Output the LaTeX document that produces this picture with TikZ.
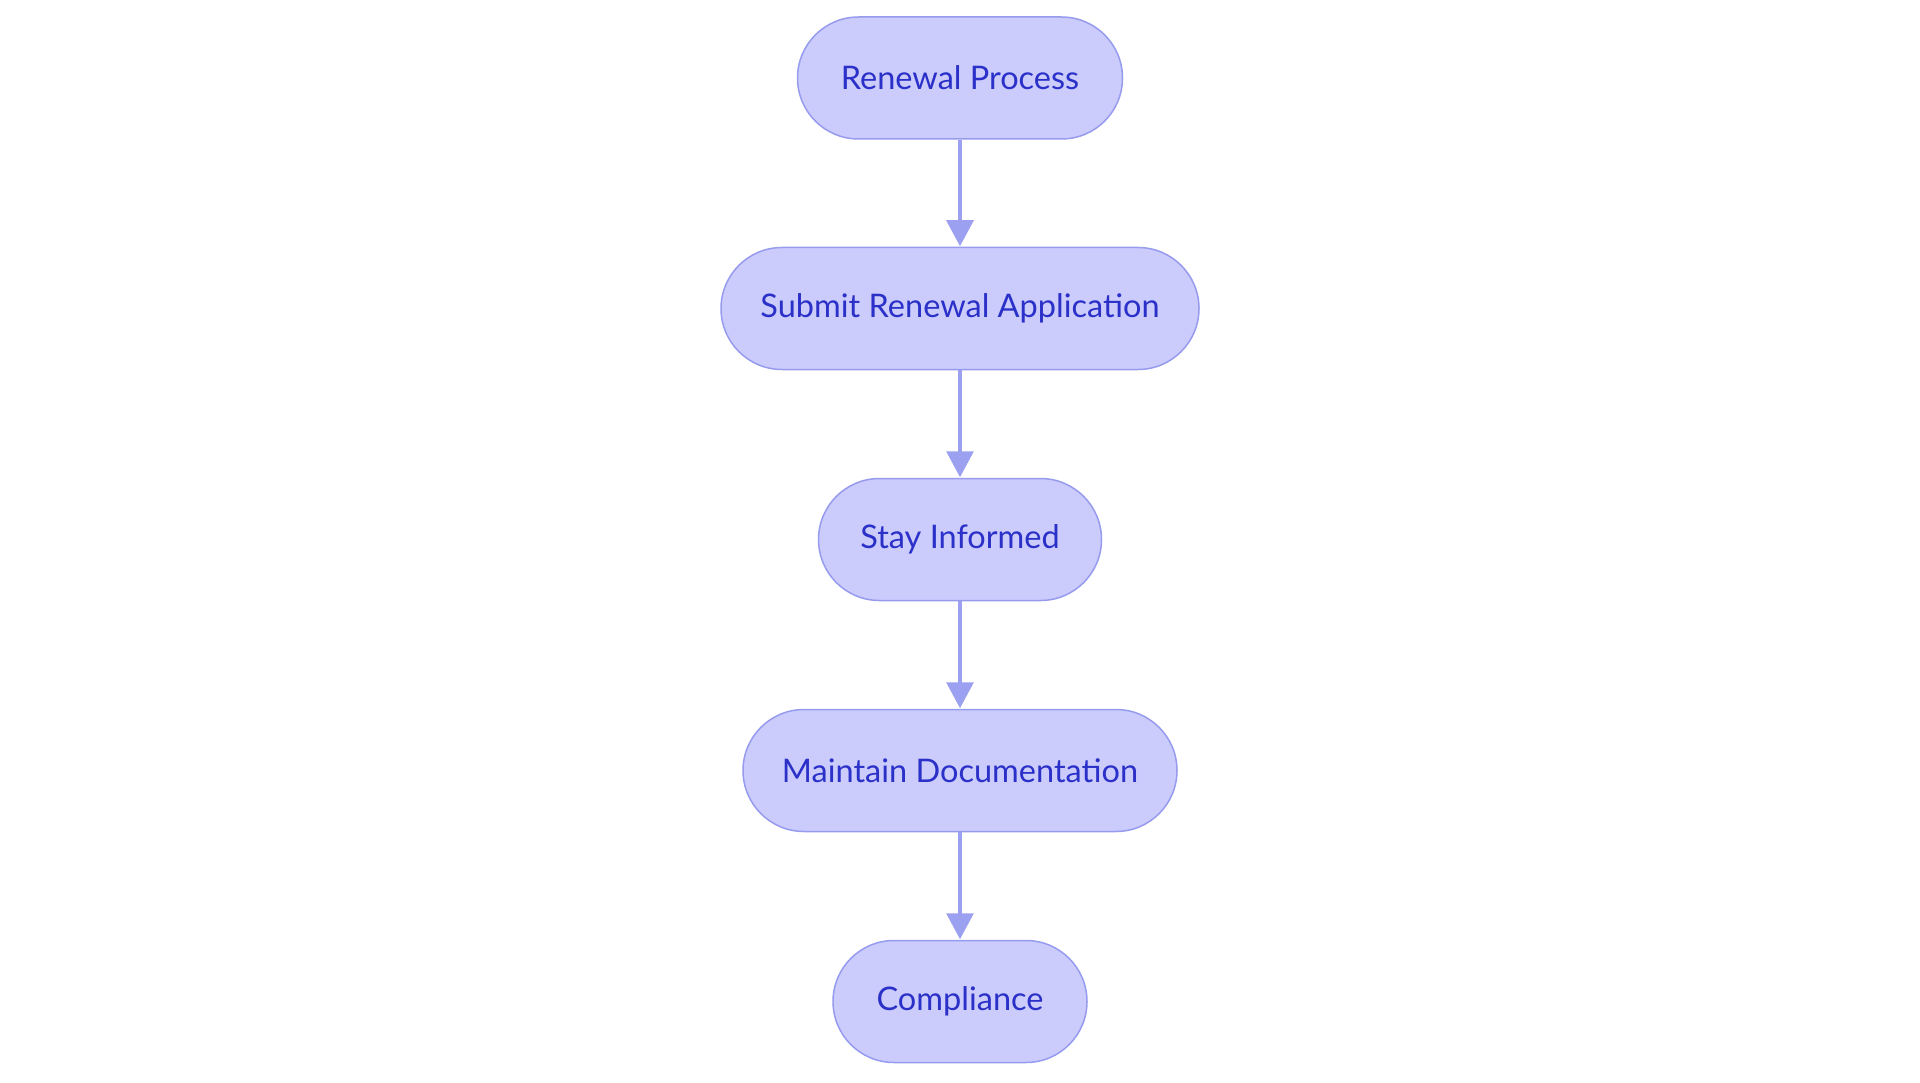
\documentclass[tikz,border=0pt]{standalone}
\usepackage{fontspec}
\setmainfont{Lato}
\usetikzlibrary{arrows.meta}
\definecolor{nodefill}{RGB}{203,204,252}
\definecolor{nodeline}{RGB}{150,155,238}
\definecolor{nodetext}{RGB}{42,48,200}
\definecolor{edgecol}{RGB}{155,160,240}
\tikzset{
  stadium/.style={draw=nodeline, fill=nodefill, line width=1.5pt, rounded corners=61pt,
    minimum height=122pt, inner sep=0pt, text=nodetext,
    font=\fontsize{32.5pt}{38pt}\selectfont},
  flow/.style={draw=edgecol, line width=3.2pt, -{Triangle[length=26pt,width=27pt]}, shorten >=0.5pt}
}
\begin{document}
\begin{tikzpicture}[x=1pt,y=-1pt]
\useasboundingbox (0,0) rectangle (1920,1083);
\node[stadium, minimum width=325pt] (n1) at (960,78) {Renewal Process};
\node[stadium, minimum width=478pt] (n2) at (960,308.5) {Submit Renewal Application};
\node[stadium, minimum width=283pt] (n3) at (960,539.5) {Stay Informed};
\node[stadium, minimum width=434pt] (n4) at (960,770.5) {Maintain Documentation};
\node[stadium, minimum width=254pt] (n5) at (960,1001.5) {Compliance};
\draw[flow] (n1) -- (n2);
\draw[flow] (n2) -- (n3);
\draw[flow] (n3) -- (n4);
\draw[flow] (n4) -- (n5);
\end{tikzpicture}
\end{document}
